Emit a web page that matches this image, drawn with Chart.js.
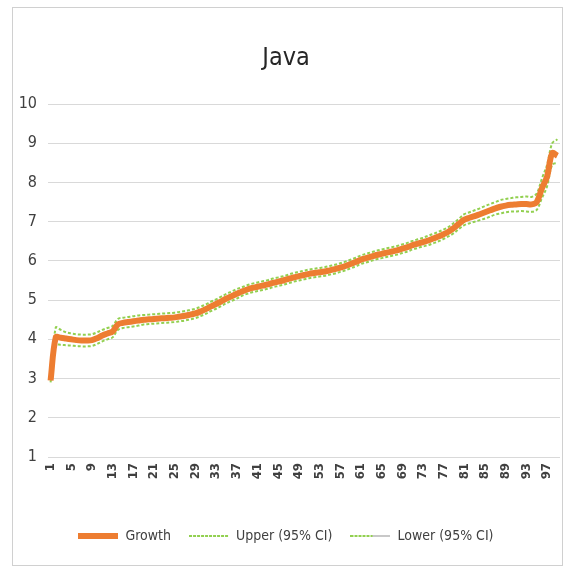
<!DOCTYPE html>
<html>
<head>
<meta charset="utf-8">
<script src="https://cdn.jsdelivr.net/npm/chart.js@4/dist/chart.umd.min.js"></script>
<style>
  html, body { margin: 0; padding: 0; background: #fff; }
  #wrap { position: relative; width: 568px; height: 569px; }
</style>
</head>
<body>
<div id="wrap"><canvas id="c" width="568" height="569"></canvas></div>
<script>
const categories = [
  1,2,3,4,5,6,7,8,9,10,11,12,13,14,15,16,17,18,19,20,
  21,22,23,24,25,26,27,28,29,30,31,32,33,34,35,36,37,38,39,40,
  41,42,43,44,45,46,47,48,49,50,51,52,53,54,55,56,57,58,59,60,
  61,62,63,64,65,66,67,68,69,70,71,72,73,74,75,76,77,78,79,80,
  81,82,83,84,85,86,87,88,89,90,91,92,93,94,95,96,97,98,99
];

const growth = [
  2.95,4.05,4.04,4.02,4.00,3.98,3.97,3.97,3.98,4.03,
  4.10,4.15,4.20,4.38,4.42,4.44,4.46,4.48,4.50,4.51,
  4.52,4.53,4.54,4.55,4.56,4.58,4.60,4.63,4.66,4.71,
  4.77,4.84,4.90,4.97,5.04,5.10,5.16,5.22,5.27,5.31,
  5.34,5.37,5.40,5.44,5.47,5.50,5.54,5.58,5.61,5.64,
  5.67,5.69,5.71,5.73,5.76,5.79,5.83,5.87,5.92,5.97,
  6.03,6.07,6.11,6.15,6.18,6.21,6.24,6.27,6.31,6.35,
  6.40,6.44,6.48,6.52,6.57,6.62,6.68,6.75,6.84,6.95,
  7.05,7.10,7.14,7.19,7.24,7.29,7.34,7.38,7.41,7.43,
  7.44,7.45,7.45,7.44,7.50,7.85,8.15,8.75,8.68
];

const upper = [
  3.00,4.30,4.24,4.18,4.15,4.13,4.12,4.12,4.13,4.18,
  4.24,4.29,4.34,4.52,4.55,4.57,4.59,4.61,4.62,4.63,
  4.64,4.65,4.66,4.67,4.68,4.70,4.72,4.75,4.78,4.83,
  4.89,4.96,5.02,5.09,5.16,5.22,5.28,5.33,5.38,5.42,
  5.45,5.48,5.51,5.55,5.58,5.61,5.65,5.69,5.72,5.75,
  5.78,5.80,5.82,5.84,5.87,5.90,5.94,5.98,6.03,6.08,
  6.14,6.18,6.22,6.26,6.29,6.32,6.35,6.38,6.42,6.46,
  6.51,6.55,6.59,6.64,6.69,6.74,6.80,6.87,6.97,7.08,
  7.19,7.24,7.29,7.34,7.40,7.45,7.50,7.55,7.58,7.60,
  7.62,7.63,7.64,7.63,7.72,8.10,8.45,9.00,9.10
];

const lower = [
  2.90,3.85,3.86,3.85,3.84,3.83,3.82,3.82,3.83,3.88,
  3.95,4.00,4.05,4.24,4.29,4.31,4.33,4.35,4.38,4.39,
  4.40,4.41,4.42,4.43,4.44,4.46,4.48,4.51,4.54,4.59,
  4.65,4.72,4.78,4.85,4.92,4.98,5.04,5.11,5.16,5.20,
  5.23,5.26,5.29,5.33,5.36,5.39,5.43,5.47,5.50,5.53,
  5.56,5.58,5.60,5.62,5.65,5.68,5.72,5.76,5.81,5.86,
  5.92,5.96,6.00,6.04,6.07,6.10,6.13,6.16,6.20,6.24,
  6.29,6.33,6.37,6.40,6.45,6.50,6.56,6.63,6.71,6.82,
  6.91,6.96,7.00,7.04,7.08,7.13,7.18,7.21,7.24,7.26,
  7.26,7.27,7.26,7.25,7.30,7.60,7.90,8.45,8.50
];

const seriesNames = ['Growth', 'Upper (95% CI)', 'Lower (95% CI)'];
const chartTitle = 'Java';

const FONT = "'Liberation Sans Narrow', 'DejaVu Sans Condensed', 'Arial Narrow', sans-serif";
const ORANGE = '#ED7D31';
const GREEN = '#92D050';
const GRID = '#D9D9D9';

// Small line swatches used as legend symbols
function swatch(kind) {
  const c = document.createElement('canvas');
  c.width = 40; c.height = 6;
  const g = c.getContext('2d');
  if (kind === 'solid') {
    g.fillStyle = ORANGE;
    g.fillRect(0, 0, 40, 6);
  } else {
    g.fillStyle = GREEN;
    const end = kind === 'half' ? 22 : 40;
    for (let x = 0; x < end; x += 4) g.fillRect(x, 2, 3, 2);
    if (kind === 'half') {
      g.fillStyle = '#C8C8C8';
      g.fillRect(22, 2, 18, 2);
    }
  }
  return c;
}
const legendSymbols = [swatch('solid'), swatch('dash'), swatch('half')];

// Light frame around the whole chart
const framePlugin = {
  id: 'frame',
  beforeDraw(chart) {
    const ctx = chart.ctx;
    ctx.save();
    ctx.fillStyle = '#fff';
    ctx.fillRect(0, 0, chart.width, chart.height);
    ctx.strokeStyle = '#D0D0D0';
    ctx.lineWidth = 1;
    ctx.strokeRect(12.5, 7.5, 550, 558);
    ctx.restore();
  }
};

new Chart(document.getElementById('c'), {
  type: 'line',
  data: {
    labels: categories,
    datasets: [
      {
        label: seriesNames[0],
        data: growth,
        borderColor: ORANGE,
        backgroundColor: ORANGE,
        borderWidth: 6,
        pointRadius: 0,
        tension: 0.35,
        order: 1
      },
      {
        label: seriesNames[1],
        data: upper,
        borderColor: GREEN,
        backgroundColor: GREEN,
        borderWidth: 2,
        borderDash: [3, 2],
        pointRadius: 0,
        tension: 0.35,
        order: 2
      },
      {
        label: seriesNames[2],
        data: lower,
        borderColor: GREEN,
        backgroundColor: GREEN,
        borderWidth: 2,
        borderDash: [3, 2],
        pointRadius: 0,
        tension: 0.35,
        order: 3
      }
    ]
  },
  options: {
    responsive: false,
    animation: false,
    layout: { padding: { left: 12, right: 8, top: 0, bottom: 16 } },
    plugins: {
      title: {
        display: true,
        text: chartTitle,
        color: '#262626',
        font: { family: FONT, size: 25, weight: 'normal' },
        padding: { top: 43, bottom: 31 }
      },
      legend: {
        position: 'bottom',
        labels: {
          usePointStyle: true,
          pointStyleWidth: 40,
          boxHeight: 6,
          padding: 18,
          color: '#404040',
          font: { family: FONT, size: 14 },
          generateLabels(chart) {
            return chart.data.datasets.map((ds, i) => ({
              text: ds.label,
              fillStyle: ds.borderColor,
              strokeStyle: ds.borderColor,
              lineWidth: 0,
              pointStyle: legendSymbols[i],
              hidden: false,
              datasetIndex: i,
              fontColor: '#404040'
            }));
          }
        }
      },
      tooltip: { enabled: false }
    },
    scales: {
      x: {
        offset: true,
        grid: { display: false, drawTicks: false },
        border: { display: false },
        afterFit(s) { s.height = 54; s.paddingLeft = 0; s.paddingRight = 0; },
        ticks: {
          autoSkip: false,
          minRotation: 90,
          maxRotation: 90,
          padding: 6,
          color: '#404040',
          font: { family: FONT, size: 13, weight: 'bold' },
          callback(value, index) {
            return index % 4 === 0 ? categories[index] : '';
          }
        }
      },
      y: {
        min: 1,
        max: 10,
        afterFit(s) { s.width = 36; },
        grid: { color: GRID, lineWidth: 1, drawTicks: false },
        border: { display: false },
        ticks: {
          stepSize: 1,
          padding: 11,
          color: '#404040',
          font: { family: FONT, size: 16 }
        }
      }
    }
  },
  plugins: [framePlugin]
});
</script>
</body>
</html>
